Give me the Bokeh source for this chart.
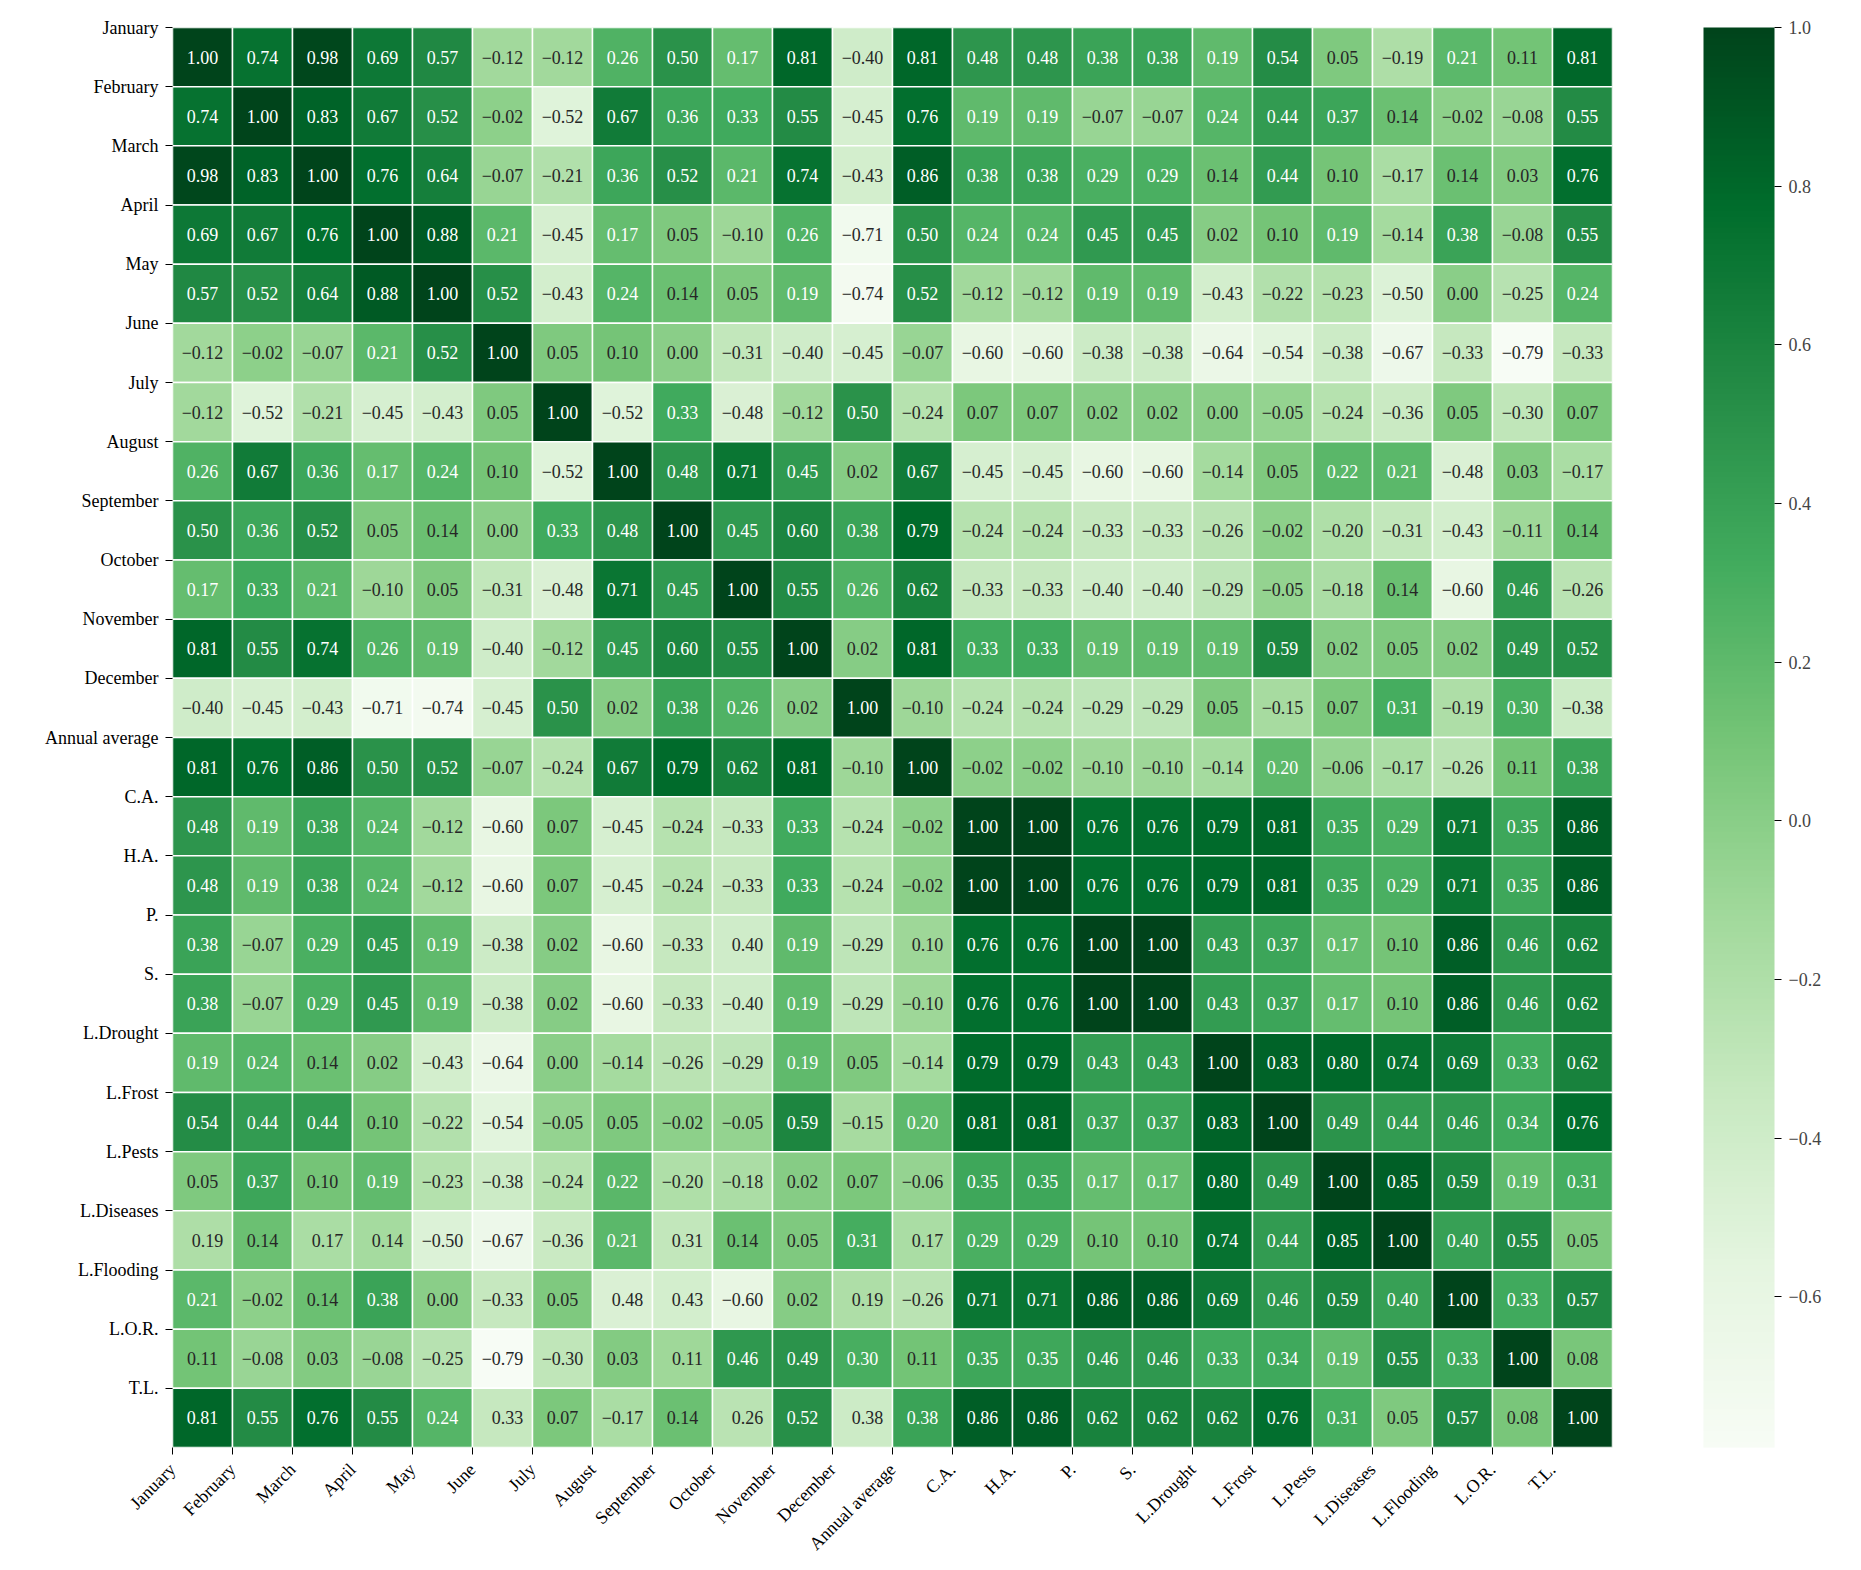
import math
from bokeh.plotting import figure
from bokeh.models import (ColumnDataSource, LinearColorMapper, ColorBar, FixedTicker,
                          Range1d, CustomJSTickFormatter)
from bokeh.core.properties import value
from bokeh.embed import file_html
from bokeh.resources import INLINE

labels = ["January", "February", "March", "April", "May", "June", "July", "August",
          "September", "October", "November", "December", "Annual average", "C.A.",
          "H.A.", "P.", "S.", "L.Drought", "L.Frost", "L.Pests", "L.Diseases",
          "L.Flooding", "L.O.R.", "T.L."]

# correlation values (drive the cell colours)
corr = [
    [1.00, 0.74, 0.98, 0.69, 0.57, -0.12, -0.12, 0.26, 0.50, 0.17, 0.81, -0.40, 0.81, 0.48, 0.48, 0.38, 0.38, 0.19, 0.54, 0.05, -0.19, 0.21, 0.11, 0.81],
    [0.74, 1.00, 0.83, 0.67, 0.52, -0.02, -0.52, 0.67, 0.36, 0.33, 0.55, -0.45, 0.76, 0.19, 0.19, -0.07, -0.07, 0.24, 0.44, 0.37, 0.14, -0.02, -0.08, 0.55],
    [0.98, 0.83, 1.00, 0.76, 0.64, -0.07, -0.21, 0.36, 0.52, 0.21, 0.74, -0.43, 0.86, 0.38, 0.38, 0.29, 0.29, 0.14, 0.44, 0.10, -0.17, 0.14, 0.03, 0.76],
    [0.69, 0.67, 0.76, 1.00, 0.88, 0.21, -0.45, 0.17, 0.05, -0.10, 0.26, -0.71, 0.50, 0.24, 0.24, 0.45, 0.45, 0.02, 0.10, 0.19, -0.14, 0.38, -0.08, 0.55],
    [0.57, 0.52, 0.64, 0.88, 1.00, 0.52, -0.43, 0.24, 0.14, 0.05, 0.19, -0.74, 0.52, -0.12, -0.12, 0.19, 0.19, -0.43, -0.22, -0.23, -0.50, 0.00, -0.25, 0.24],
    [-0.12, -0.02, -0.07, 0.21, 0.52, 1.00, 0.05, 0.10, 0.00, -0.31, -0.40, -0.45, -0.07, -0.60, -0.60, -0.38, -0.38, -0.64, -0.54, -0.38, -0.67, -0.33, -0.79, -0.33],
    [-0.12, -0.52, -0.21, -0.45, -0.43, 0.05, 1.00, -0.52, 0.33, -0.48, -0.12, 0.50, -0.24, 0.07, 0.07, 0.02, 0.02, 0.00, -0.05, -0.24, -0.36, 0.05, -0.30, 0.07],
    [0.26, 0.67, 0.36, 0.17, 0.24, 0.10, -0.52, 1.00, 0.48, 0.71, 0.45, 0.02, 0.67, -0.45, -0.45, -0.60, -0.60, -0.14, 0.05, 0.22, 0.21, -0.48, 0.03, -0.17],
    [0.50, 0.36, 0.52, 0.05, 0.14, 0.00, 0.33, 0.48, 1.00, 0.45, 0.60, 0.38, 0.79, -0.24, -0.24, -0.33, -0.33, -0.26, -0.02, -0.20, -0.31, -0.43, -0.11, 0.14],
    [0.17, 0.33, 0.21, -0.10, 0.05, -0.31, -0.48, 0.71, 0.45, 1.00, 0.55, 0.26, 0.62, -0.33, -0.33, -0.40, -0.40, -0.29, -0.05, -0.18, 0.14, -0.60, 0.46, -0.26],
    [0.81, 0.55, 0.74, 0.26, 0.19, -0.40, -0.12, 0.45, 0.60, 0.55, 1.00, 0.02, 0.81, 0.33, 0.33, 0.19, 0.19, 0.19, 0.59, 0.02, 0.05, 0.02, 0.49, 0.52],
    [-0.40, -0.45, -0.43, -0.71, -0.74, -0.45, 0.50, 0.02, 0.38, 0.26, 0.02, 1.00, -0.10, -0.24, -0.24, -0.29, -0.29, 0.05, -0.15, 0.07, 0.31, -0.19, 0.30, -0.38],
    [0.81, 0.76, 0.86, 0.50, 0.52, -0.07, -0.24, 0.67, 0.79, 0.62, 0.81, -0.10, 1.00, -0.02, -0.02, -0.10, -0.10, -0.14, 0.20, -0.06, -0.17, -0.26, 0.11, 0.38],
    [0.48, 0.19, 0.38, 0.24, -0.12, -0.60, 0.07, -0.45, -0.24, -0.33, 0.33, -0.24, -0.02, 1.00, 1.00, 0.76, 0.76, 0.79, 0.81, 0.35, 0.29, 0.71, 0.35, 0.86],
    [0.48, 0.19, 0.38, 0.24, -0.12, -0.60, 0.07, -0.45, -0.24, -0.33, 0.33, -0.24, -0.02, 1.00, 1.00, 0.76, 0.76, 0.79, 0.81, 0.35, 0.29, 0.71, 0.35, 0.86],
    [0.38, -0.07, 0.29, 0.45, 0.19, -0.38, 0.02, -0.60, -0.33, -0.40, 0.19, -0.29, -0.10, 0.76, 0.76, 1.00, 1.00, 0.43, 0.37, 0.17, 0.10, 0.86, 0.46, 0.62],
    [0.38, -0.07, 0.29, 0.45, 0.19, -0.38, 0.02, -0.60, -0.33, -0.40, 0.19, -0.29, -0.10, 0.76, 0.76, 1.00, 1.00, 0.43, 0.37, 0.17, 0.10, 0.86, 0.46, 0.62],
    [0.19, 0.24, 0.14, 0.02, -0.43, -0.64, 0.00, -0.14, -0.26, -0.29, 0.19, 0.05, -0.14, 0.79, 0.79, 0.43, 0.43, 1.00, 0.83, 0.80, 0.74, 0.69, 0.33, 0.62],
    [0.54, 0.44, 0.44, 0.10, -0.22, -0.54, -0.05, 0.05, -0.02, -0.05, 0.59, -0.15, 0.20, 0.81, 0.81, 0.37, 0.37, 0.83, 1.00, 0.49, 0.44, 0.46, 0.34, 0.76],
    [0.05, 0.37, 0.10, 0.19, -0.23, -0.38, -0.24, 0.22, -0.20, -0.18, 0.02, 0.07, -0.06, 0.35, 0.35, 0.17, 0.17, 0.80, 0.49, 1.00, 0.85, 0.59, 0.19, 0.31],
    [-0.19, 0.14, -0.17, -0.14, -0.50, -0.67, -0.36, 0.21, -0.31, 0.14, 0.05, 0.31, -0.17, 0.29, 0.29, 0.10, 0.10, 0.74, 0.44, 0.85, 1.00, 0.40, 0.55, 0.05],
    [0.21, -0.02, 0.14, 0.38, 0.00, -0.33, 0.05, -0.48, -0.43, -0.60, 0.02, -0.19, -0.26, 0.71, 0.71, 0.86, 0.86, 0.69, 0.46, 0.59, 0.40, 1.00, 0.33, 0.57],
    [0.11, -0.08, 0.03, -0.08, -0.25, -0.79, -0.30, 0.03, -0.11, 0.46, 0.49, 0.30, 0.11, 0.35, 0.35, 0.46, 0.46, 0.33, 0.34, 0.19, 0.55, 0.33, 1.00, 0.08],
    [0.81, 0.55, 0.76, 0.55, 0.24, -0.33, 0.07, -0.17, 0.14, -0.26, 0.52, -0.38, 0.38, 0.86, 0.86, 0.62, 0.62, 0.62, 0.76, 0.31, 0.05, 0.57, 0.08, 1.00],
]

# cells (row, col) whose printed annotation shows no minus sign in the original
unsigned_annotations = [(20, 0), (20, 2), (20, 3), (23, 5), (21, 7), (20, 8), (21, 8),
                        (22, 8), (15, 9), (23, 9), (21, 11), (23, 11), (15, 12), (20, 12)]

colorbar_ticks = [-0.6, -0.4, -0.2, 0.0, 0.2, 0.4, 0.6, 0.8, 1.0]

# ---- Greens colormap (matplotlib / ColorBrewer anchors, linear interpolation) ----
anchors = ["#f7fcf5", "#e5f5e0", "#c7e9c0", "#a1d99b", "#74c476",
           "#41ab5d", "#238b45", "#006d2c", "#00441b"]
anc = [tuple(int(h[i:i + 2], 16) / 255.0 for i in (1, 3, 5)) for h in anchors]
N = 256
pal_rgb = []
for i in range(N):
    t = i / (N - 1) * (len(anc) - 1)
    k = min(int(math.floor(t)), len(anc) - 2)
    f = t - k
    pal_rgb.append(tuple(anc[k][c] * (1 - f) + anc[k + 1][c] * f for c in range(3)))
palette = ["#%02x%02x%02x" % tuple(int(round(c * 255)) for c in rgb) for rgb in pal_rgb]

flat = [v for row in corr for v in row]
vmin, vmax = min(flat), max(flat)
mapper = LinearColorMapper(palette=palette, low=vmin, high=vmax)


def lum(rgb):
    out = []
    for c in rgb:
        out.append(c / 12.92 if c <= 0.03928 else ((c + 0.055) / 1.055) ** 2.4)
    return 0.2126 * out[0] + 0.7152 * out[1] + 0.0722 * out[2]


unsigned = set(unsigned_annotations)
xs, ys, vals, texts, tcolors, xoffs = [], [], [], [], [], []
n = len(labels)
for r in range(n):
    for c in range(n):
        v = corr[r][c]
        xs.append(c + 0.5)
        ys.append(r + 0.5)
        vals.append(v)
        if (r, c) in unsigned:
            texts.append("%.2f" % abs(v))
            xoffs.append(5)
        else:
            texts.append(("%.2f" % v).replace("-", "\u2212"))
            xoffs.append(0)
        idx = int((v - vmin) / (vmax - vmin) * N)
        idx = max(0, min(N - 1, idx))
        tcolors.append("#262626" if lum(pal_rgb[idx]) > 0.408 else "#ffffff")

src = ColumnDataSource(dict(x=xs, y=ys, val=vals, text=texts, tcolor=tcolors, xoff=xoffs))

FONT = "Liberation Serif"
FS = "18px"
W, H = 1861, 1570
FW, FH = 1440, 1420
ML, MT = 172, 27

p = figure(width=W, height=H, x_range=Range1d(0, n), y_range=Range1d(n, 0),
           output_backend="svg", toolbar_location=None,
           min_border_left=ML, min_border_top=MT,
           min_border_right=W - ML - FW, min_border_bottom=H - MT - FH)
p.outline_line_color = None
p.grid.grid_line_color = None
p.background_fill_color = "white"

p.rect(x="x", y="y", width=1, height=1, source=src,
       fill_color={"field": "val", "transform": mapper},
       line_color="white", line_width=1.5)
p.text(x="x", y="y", text="text", text_color="tcolor", x_offset="xoff", source=src,
       text_font=value(FONT), text_font_size=FS,
       text_align="center", text_baseline="middle")

for ax in (p.xaxis[0], p.yaxis[0]):
    ax.ticker = FixedTicker(ticks=list(range(n)))
    ax.major_label_overrides = {i: lab for i, lab in enumerate(labels)}
    ax.axis_line_color = None
    ax.major_tick_out = 7
    ax.major_tick_in = 0
    ax.major_tick_line_color = "black"
    ax.minor_tick_line_color = None
    ax.major_label_text_font = FONT
    ax.major_label_text_font_size = FS
    ax.major_label_text_color = "black"
p.xaxis.major_label_standoff = 12
p.yaxis.major_label_standoff = 7
p.xaxis.major_label_orientation = math.pi / 4

cbar = ColorBar(color_mapper=mapper, ticker=FixedTicker(ticks=colorbar_ticks),
                formatter=CustomJSTickFormatter(code="return tick.toFixed(1).replace('-', '\\u2212');"),
                width=71, height=FH, padding=0, margin=0, location=(91, 0),
                major_tick_out=7, major_tick_in=0, major_tick_line_color="black",
                minor_tick_line_color=None, bar_line_color=None, border_line_color=None,
                background_fill_color=None,
                major_label_text_font=FONT, major_label_text_font_size=FS,
                label_standoff=7)
p.add_layout(cbar, "right")

open("out.html", "w").write(file_html(p, INLINE))
